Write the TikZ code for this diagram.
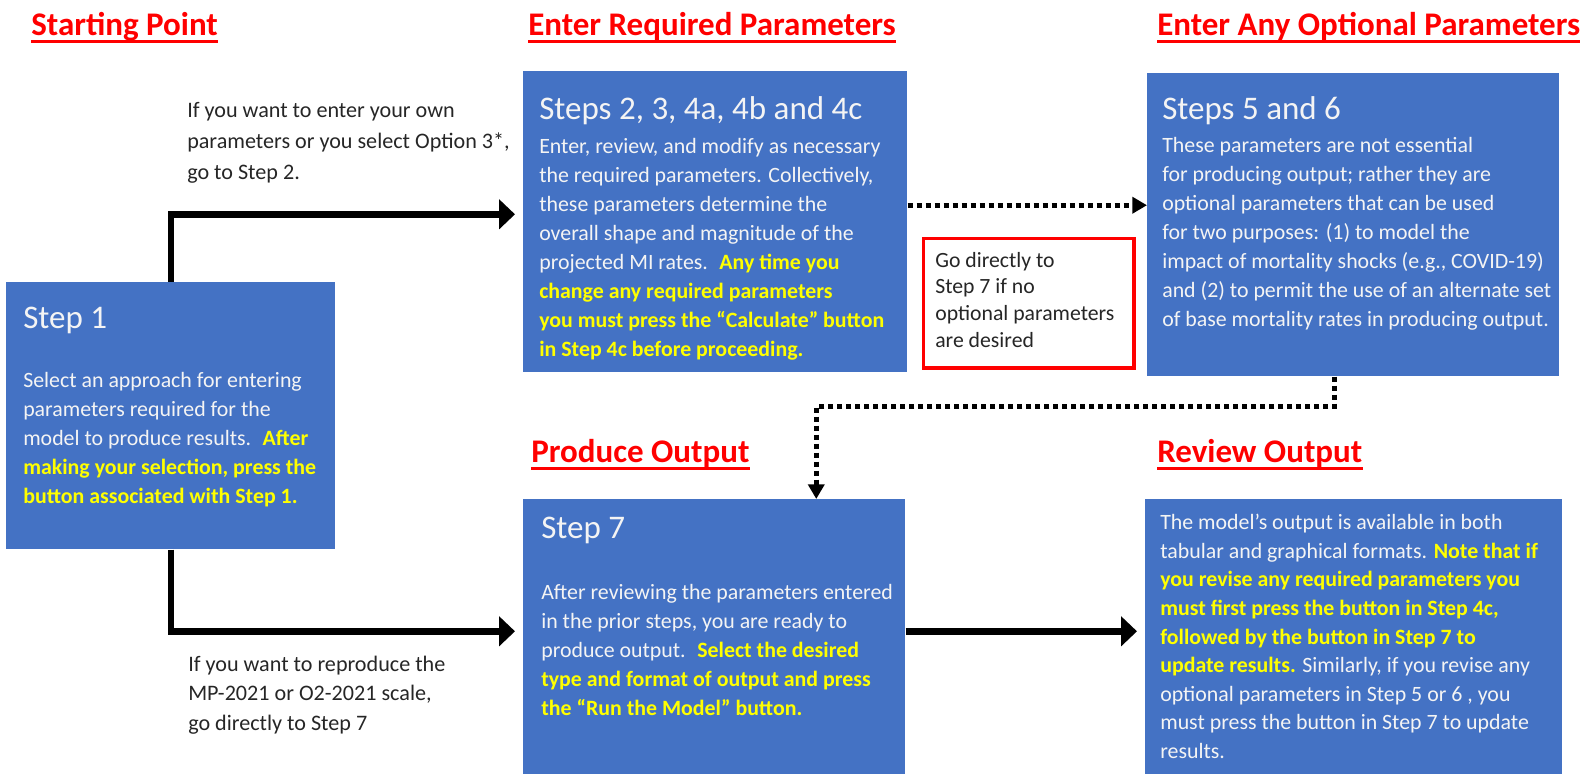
\documentclass[tikz,border=0pt]{standalone}
\usepackage{fontspec}
\setmainfont{Carlito}
\usetikzlibrary{arrows.meta,positioning}

\definecolor{boxblue}{HTML}{4472C4}
\definecolor{hiyellow}{HTML}{FFFF00}
\definecolor{headred}{HTML}{FF0000}
\definecolor{boxwhite}{HTML}{F4F4F4}

\newcommand{\hi}[1]{{\color{hiyellow}\bfseries #1}}

\tikzset{
  bluebox/.style={rectangle, fill=boxblue, inner sep=0, anchor=north west},
  redbox/.style={rectangle, draw=headred, line width=2.5pt, fill=white, inner sep=0, anchor=north west},
  heading/.style={anchor=base west, inner sep=0, text=headred, font=\fontsize{24.75}{30}\selectfont\bfseries},
  headline/.style={draw=headred, line width=2.25pt},
  boxtitle/.style={anchor=base west, inner sep=0, text=boxwhite, font=\fontsize{24.75}{30}\selectfont},
  boxtext/.style={anchor=north west, inner sep=0, align=left, text=boxwhite, font=\fontsize{16.4}{21.75}\selectfont},
  sidetext/.style={anchor=north west, inner sep=0, align=left, text=black!85, font=\fontsize{16.6}{23.25}\selectfont},
  flowarrow/.style={line width=4.9pt, -{Triangle[length=12pt,width=22pt]}, shorten >=6pt},
  dotarrow/.style={line width=3.4pt, dash pattern=on 3.75pt off 3pt, -{Triangle[length=11pt,width=12pt]}}
}

\begin{document}
\begin{tikzpicture}[x=0.75pt, y=-0.75pt]
\useasboundingbox (0,0) rectangle (1582,774);

% headings
\node[heading] (h1) at (31,36) {Starting Point};
\node[heading] (h2) at (528,36) {Enter Required Parameters};
\node[heading] (h3) at (1157,36) {Enter Any Optional Parameters};
\node[heading] (h4) at (531,462) {Produce Output};
\node[heading] (h5) at (1157,462) {Review Output};
\foreach \h in {h1,h2,h3,h4,h5}
  \draw[headline] ([yshift=-4.5pt]\h.base west) -- ([yshift=-4.5pt]\h.base east);

% boxes
\node[bluebox, minimum width=246.75pt, minimum height=200.25pt] (s1) at (6,282) {};
\node[bluebox, minimum width=288pt, minimum height=225.75pt] (s2) at (523,71) {};
\node[bluebox, minimum width=309pt, minimum height=227.25pt] (s5) at (1147,73) {};
\node[bluebox, minimum width=286.5pt, minimum height=206.25pt] (s7) at (523,499) {};
\node[bluebox, minimum width=312.75pt, minimum height=206.25pt] (rv) at (1145,499) {};
\node[redbox, minimum width=158pt, minimum height=97.2pt] (skip) at (921.7,236.7) {};

% box titles
\node[boxtitle] (t1) at (23,328) {Step 1};
\node[boxtitle] (t2) at (539,119) {Steps 2, 3, 4a, 4b and 4c};
\node[boxtitle] (t5) at (1162,119) {Steps 5 and 6};
\node[boxtitle] (t7) at (541,538) {Step 7};

% box texts
\node[boxtext, below right=63.5pt and 12.75pt of s1.north west] (b1) {\strut Select an approach for entering\\
parameters required for the\\
model to produce results. \ \hi{After}\\
\hi{making your selection, press the}\\
\hi{button associated with Step 1.}};
\node[boxtext, below right=46.3pt and 12pt of s2.north west] (b2) {\strut Enter, review, and modify as necessary\\
the required parameters. Collectively,\\
these parameters determine the\\
overall shape and magnitude of the\\
projected MI rates. \ \hi{Any time you}\\
\hi{change any required parameters}\\
\hi{you must press the “Calculate” button}\\
\hi{in Step 4c before proceeding.}};
\node[boxtext, below right=44pt and 11.25pt of s5.north west] (b5) {\strut These parameters are not essential\\
for producing output; rather they are\\
optional parameters that can be used\\
for two purposes: (1) to model the\\
impact of mortality shocks (e.g., COVID-19)\\
and (2) to permit the use of an alternate set\\
of base mortality rates in producing output.};
\node[boxtext, below right=59.8pt and 13.5pt of s7.north west] (b7) {\strut After reviewing the parameters entered\\
in the prior steps, you are ready to\\
produce output. \ \hi{Select the desired}\\
\hi{type and format of output and press}\\
\hi{the “Run the Model” button.}};
\node[boxtext, font=\fontsize{16.4}{21.4}\selectfont, below right=8pt and 11.25pt of rv.north west] (brv) {\strut The model’s output is available in both\\
tabular and graphical formats. \hi{Note that if}\\
\hi{you revise any required parameters you}\\
\hi{must first press the button in Step 4c,}\\
\hi{followed by the button in Step 7 to}\\
\hi{update results.} Similarly, if you revise any\\
optional parameters in Step 5 or 6 , you\\
must press the button in Step 7 to update\\
results.};
\node[boxtext, text=black!85, font=\fontsize{16.3}{20}\selectfont, below right=8.7pt and 10pt of skip.north west] (bskip) {\strut Go directly to\\
Step 7 if no\\
optional parameters\\
are desired};

% side notes
\node[sidetext] (n1) at (187,95.3) {\strut If you want to enter your own\\
parameters or you select Option 3*,\\
go to Step 2.};
\node[sidetext, font=\fontsize{16.6}{22.1}\selectfont] (n2) at (188,650.4) {\strut If you want to reproduce the\\
MP-2021 or O2-2021 scale,\\
go directly to Step 7};

% connectors
\draw[flowarrow] (s1.north) |- ([yshift=5.6pt]s2.west);
\draw[flowarrow] (s1.south) |- ([yshift=4.1pt]s7.west);
\draw[flowarrow] ([yshift=4.1pt]s7.east) -- ([yshift=4.1pt]rv.west);
\draw[dotarrow] ([yshift=12.4pt]s2.east) -- ([yshift=12.4pt]s2.east -| s5.west);
\draw[dotarrow] ([xshift=-14.25pt]s5.south) -- ++(0,30) -| ([xshift=76.5pt]s7.north);
\end{tikzpicture}
\end{document}
